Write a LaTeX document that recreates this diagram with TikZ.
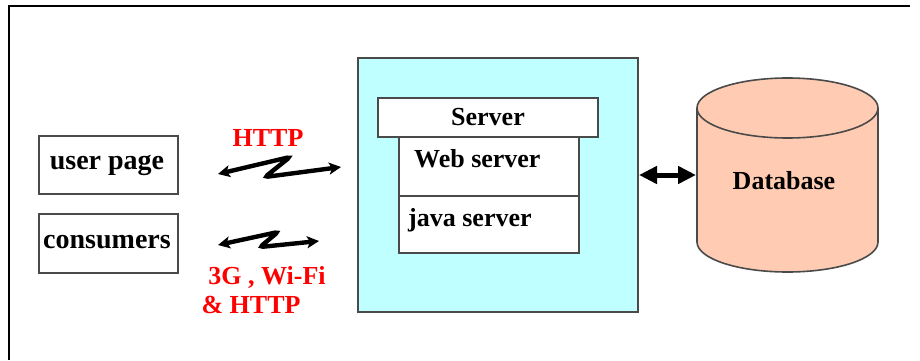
\documentclass[tikz,border=0pt]{standalone}
\usepackage{fontspec}
\setmainfont{Liberation Serif}
\usetikzlibrary{arrows.meta}
\definecolor{boxline}{HTML}{4A4A4A}
\definecolor{srvfill}{HTML}{C0FFFF}
\definecolor{dbfill}{HTML}{FFCCB3}
\definecolor{lblred}{HTML}{FF0000}
\tikzset{
  lbl/.style={font=\fontsize{26}{30}\selectfont\bfseries, inner sep=0pt},
  widelbl/.style={font=\fontsize{28}{32}\selectfont\bfseries, inner sep=0pt},
  redlbl/.style={lbl, text=lblred},
  plainbox/.style={draw=boxline, line width=1.6pt, fill=white, inner sep=0pt},
  link/.style={line width=4.4pt, rounded corners=3pt, line cap=round,
    {Stealth[length=12pt,width=12pt,inset=3pt]}-{Stealth[length=12pt,width=12pt,inset=3pt]}},
  dblink/.style={line width=5pt, {Triangle[length=18pt,width=17pt]}-{Triangle[length=18pt,width=17pt]}}
}
\begin{document}
\begin{tikzpicture}[x=1pt,y=1pt]
  \useasboundingbox (0,0) rectangle (920,360);
  % page frame (top and left edges)
  \draw[line width=2.5pt] (9,0) -- (9,354) -- (910,354);

  % clients
  \node[plainbox, minimum width=139pt, minimum height=58pt] (user) at (108.5,195) {};
  \node[widelbl] (usertxt) at (107,195) {user page};
  \node[plainbox, minimum width=139pt, minimum height=59pt] (cons) at (108.5,116.5) {};
  \node[widelbl] (constxt) at (107,118) {consumers};

  % server block
  \node[draw=boxline, line width=2pt, fill=srvfill, minimum width=280pt, minimum height=254pt, inner sep=0pt] (srv) at (498,175) {};
  \node[plainbox, minimum width=180pt, minimum height=59pt] (web) at (489,193.5) {};
  \node[plainbox, minimum width=180pt, minimum height=57pt] (java) at (489,135.5) {};
  \node[plainbox, minimum width=220pt, minimum height=39pt] (hdr) at (488,242.5) {};
  \node[lbl] (hdrtxt) at (hdr.center) {Server};
  \node[lbl, anchor=west] (webtxt) at (414,201) {Web server};
  \node[lbl, anchor=west] (javatxt) at (408,140) {java server};

  % database cylinder
  \fill[dbfill] (697,252) -- (697,118) arc (180:360:90.5 and 30) -- (878,252) arc (0:180:90.5 and 30) -- cycle;
  \draw[boxline, line width=1.6pt] (697,252) -- (697,118) arc (180:360:90.5 and 30) -- (878,252);
  \draw[boxline, line width=1.6pt] (787.5,252) ellipse (90.5 and 30);
  \node[lbl] (db) at (784,179) {Database};
  \coordinate (dbw) at (696,185);
  \coordinate (srve) at (639,185);
  \draw[dblink] (srve) -- (dbw);

  % wireless links
  \coordinate (h1) at (218,186);
  \coordinate (h2) at (341,193);
  \draw[link] (h1) -- (290,203) -- (265,183) -- (h2);
  \node[redlbl] (http) at (268,222) {HTTP};

  \coordinate (g1) at (218,115);
  \coordinate (g2) at (319,119);
  \draw[link] (g1) -- (278,128) -- (260,113) -- (g2);
  \node[redlbl] (wifi) at (267,83) {3G , Wi-Fi};
  \node[redlbl] (amp) at (251,55) {\& HTTP};
\end{tikzpicture}
\end{document}
